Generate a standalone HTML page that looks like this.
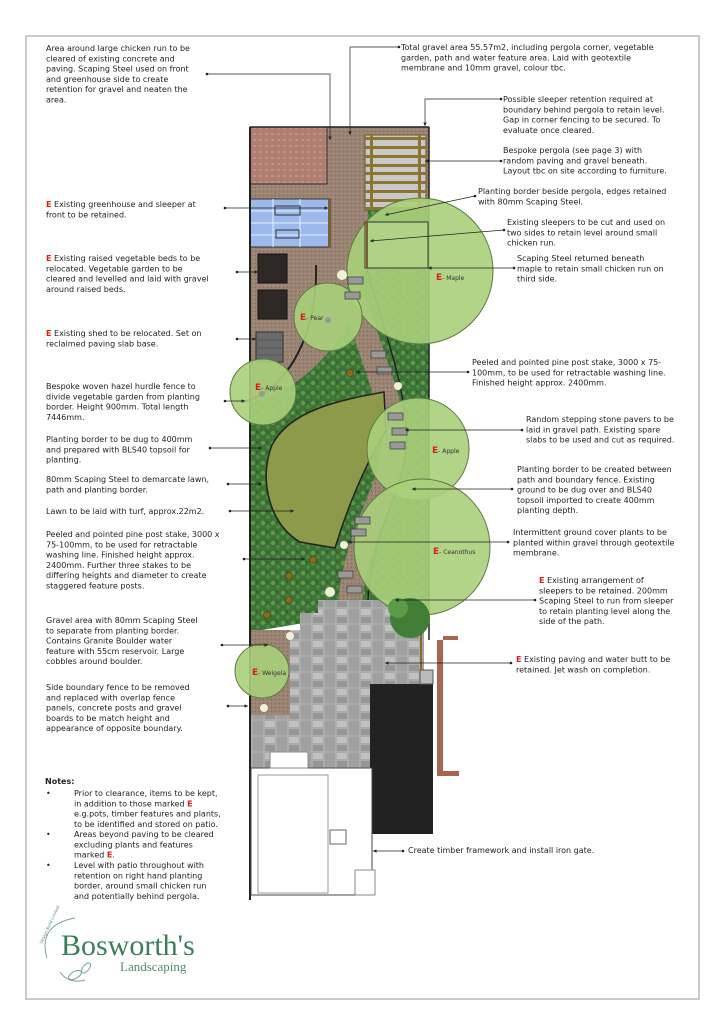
<!DOCTYPE html>
<html><head><meta charset="utf-8"><style>
html,body{margin:0;padding:0;background:#fff}
svg{display:block}
text{font-family:"DejaVu Sans","Liberation Sans",sans-serif;font-size:8px;fill:#222}
.e{fill:#d81e1e;font-weight:bold}
.tl{font-size:6px;fill:#333}
</style></head><body>
<svg width="724" height="1024" viewBox="0 0 724 1024" xmlns="http://www.w3.org/2000/svg">
<defs>
<marker id="a" viewBox="0 0 6 6" refX="6" refY="3" markerWidth="5" markerHeight="5" orient="auto"><path d="M0,0L6,3L0,6z" fill="#222"/></marker>
<pattern id="grv" width="4" height="4" patternUnits="userSpaceOnUse"><rect width="4" height="4" fill="#9a8372"/><rect x="1" y="1" width="1" height="1" fill="#b29c8a"/><rect x="3" y="3" width="1" height="1" fill="#7f6a5b"/></pattern>
<pattern id="pl" width="10" height="10" patternUnits="userSpaceOnUse"><rect width="10" height="10" fill="#3d7336"/><circle cx="3" cy="3" r="2.2" fill="#5e9a4c"/><circle cx="8" cy="7" r="2" fill="#4e8a41"/><circle cx="7" cy="2" r="1" fill="#2c5a28"/></pattern>
<pattern id="pat" width="24" height="16" patternUnits="userSpaceOnUse"><rect width="24" height="16" fill="#acacac"/><rect x="1" y="1" width="10" height="6" fill="#c0c0c0"/><rect x="13" y="1" width="10" height="14" fill="#a0a0a0"/><rect x="1" y="9" width="10" height="6" fill="#969696"/></pattern>
<pattern id="brk" width="6" height="6" patternUnits="userSpaceOnUse"><rect width="6" height="6" fill="#b07e6e"/><rect x="1" y="1" width="3" height="2" fill="#c0918a"/></pattern>
</defs>
<rect x="26" y="36" width="673" height="963" fill="#fff" stroke="#b8b8b8" stroke-width="1.5"/>

<!-- plot -->
<rect x="250" y="127" width="179" height="480" fill="url(#grv)"/>
<rect x="250" y="127" width="77" height="57" fill="url(#brk)" stroke="#333" stroke-width="1"/>
<!-- greenhouse -->
<rect x="250" y="199" width="80" height="48" fill="#9db9ec" stroke="#333"/>
<g stroke="#e6eefc" stroke-width="1"><line x1="250" y1="211" x2="330" y2="211"/><line x1="250" y1="223" x2="330" y2="223"/><line x1="250" y1="235" x2="330" y2="235"/><line x1="273" y1="199" x2="273" y2="247"/><line x1="300" y1="199" x2="300" y2="247"/></g>
<rect x="275" y="206" width="25" height="9" fill="none" stroke="#333"/><rect x="276" y="230" width="23" height="8" fill="none" stroke="#333"/>
<line x1="329" y1="199" x2="329" y2="247" stroke="#7a5f2a" stroke-width="2"/>
<!-- beds and shed -->
<rect x="258" y="254" width="29" height="29" fill="#2e2826" stroke="#111"/>
<rect x="258" y="290" width="29" height="29" fill="#2e2826" stroke="#111"/>
<rect x="256" y="332" width="27" height="30" fill="#6b6b6b" stroke="#333"/>
<g stroke="#555"><line x1="256" y1="340" x2="283" y2="340"/><line x1="256" y1="348" x2="283" y2="348"/><line x1="256" y1="355" x2="283" y2="355"/></g>

<!-- planting -->
<path d="M250,402 C300,392 330,352 345,330 L367,268 L429,268 L429,602 L250,632 Z" fill="url(#pl)"/>
<path d="M355,300 C368,350 393,400 394,440 C394,490 355,530 350,605" fill="none" stroke="url(#grv)" stroke-width="24"/>
<path d="M367,268 C380,320 405,380 407,437 C407,490 370,530 368,600" fill="none" stroke="#222" stroke-width="1.5"/>
<!-- lawn -->
<path d="M384,392 C340,400 290,410 272,445 C258,480 270,525 300,542 L335,548 C345,515 362,470 386,430 Z" fill="#8c9a4a" stroke="#222" stroke-width="1.5"/>
<path d="M316,265 C318,330 290,390 243,402" fill="none" stroke="#222" stroke-width="2"/>

<!-- patio -->
<path d="M318,600 L424,600 L424,684 L370,684 L370,870 L330,870 L330,768 L250,768 L250,715 L290,715 L290,630 L300,630 L300,613 L318,613 Z" fill="url(#pat)"/>
<rect x="250" y="630" width="40" height="85" fill="url(#grv)"/>
<rect x="370" y="684" width="63" height="150" fill="#222"/>
<rect x="420" y="670" width="13" height="14" fill="#bbb" stroke="#555"/>
<line x1="421" y1="602" x2="421" y2="670" stroke="#8a6a2a" stroke-width="2"/>
<path d="M437,640 L458,640 L458,636 L437,636 Z M437,636 L443,636 L443,775 L437,775 Z M437,771 L459,771 L459,776 L437,776Z" fill="#a8664e"/>
<line x1="429" y1="127" x2="429" y2="640" stroke="#222" stroke-width="1.5"/>
<line x1="250" y1="127" x2="250" y2="900" stroke="#222" stroke-width="2"/>
<line x1="250" y1="127" x2="429" y2="127" stroke="#222" stroke-width="1.5"/>
<!-- building -->
<rect x="251" y="768" width="121" height="127" fill="#fff" stroke="#444"/>
<rect x="258" y="775" width="70" height="118" fill="none" stroke="#999"/>
<rect x="270" y="752" width="38" height="16" fill="#fff" stroke="#888"/>
<rect x="330" y="830" width="16" height="14" fill="#fff" stroke="#666"/>
<rect x="355" y="870" width="20" height="25" fill="#fff" stroke="#888"/>

<!-- pergola + chicken run -->
<rect x="365" y="135" width="61" height="75" fill="#c8c8c8" stroke="#6a5520"/>
<g fill="#8c7431"><rect x="365" y="137" width="61" height="3"/><rect x="365" y="146" width="61" height="3"/><rect x="365" y="155" width="61" height="3"/><rect x="365" y="164" width="61" height="3"/><rect x="365" y="172" width="61" height="3"/><rect x="365" y="181" width="61" height="3"/><rect x="365" y="190" width="61" height="3"/><rect x="365" y="199" width="61" height="3"/><rect x="365" y="207" width="61" height="3"/><rect x="370" y="135" width="3" height="75"/><rect x="418" y="135" width="3" height="75"/></g>
<rect x="368" y="210" width="60" height="12" fill="url(#pl)"/>

<!-- trees -->
<g fill="#a8cf7a" fill-opacity="0.9" stroke="#5d7a44" stroke-width="1">
<circle cx="420" cy="271" r="73"/>
<circle cx="328" cy="317" r="34"/>
<circle cx="263" cy="392" r="33"/>
<circle cx="418" cy="449" r="51"/>
<circle cx="422" cy="547" r="68"/>
<circle cx="262" cy="671" r="27"/>
</g>
<rect x="365" y="222" width="63" height="46" fill="#b7d98e" fill-opacity="0.6" stroke="#333"/>
<line x1="367" y1="222" x2="367" y2="268" stroke="#7a5f2a" stroke-width="2"/>
<circle cx="410" cy="618" r="20" fill="#3f7e34"/><circle cx="398" cy="608" r="10" fill="#5a9a48"/>
<!-- stones -->
<g fill="#999" stroke="#444" stroke-width="0.8">
<rect x="348" y="277" width="15" height="7"/><rect x="345" y="292" width="15" height="7"/><rect x="371" y="351" width="15" height="7"/><rect x="377" y="367" width="15" height="7"/><rect x="388" y="413" width="15" height="7"/><rect x="392" y="428" width="15" height="7"/><rect x="390" y="442" width="15" height="7"/><rect x="355" y="517" width="15" height="7"/><rect x="351" y="529" width="15" height="7"/><rect x="338" y="571" width="15" height="7"/><rect x="347" y="586" width="15" height="7"/>
</g>
<g fill="#f2f0d8"><circle cx="342" cy="275" r="5"/><circle cx="398" cy="386" r="4"/><circle cx="344" cy="545" r="4"/><circle cx="330" cy="592" r="5"/><circle cx="290" cy="636" r="4"/><circle cx="264" cy="708" r="4"/></g>
<g fill="#8a6a1c" stroke="#4a3a10" stroke-width="0.6"><circle cx="350" cy="373" r="3.5"/><circle cx="313" cy="560" r="3.5"/><circle cx="289" cy="576" r="3.5"/><circle cx="289" cy="600" r="3.5"/><circle cx="267" cy="615" r="3.5"/></g>
<g fill="#999"><circle cx="328" cy="320" r="3"/><circle cx="262" cy="394" r="3"/></g>
<!-- tree labels -->
<text x="436" y="280"><tspan class="e" font-size="9">E</tspan><tspan class="tl">- Maple</tspan></text>
<text x="300" y="320"><tspan class="e" font-size="9">E</tspan><tspan class="tl">- Pear</tspan></text>
<text x="255" y="390"><tspan class="e" font-size="9">E</tspan><tspan class="tl">- Apple</tspan></text>
<text x="432" y="453"><tspan class="e" font-size="9">E</tspan><tspan class="tl">- Apple</tspan></text>
<text x="433" y="554"><tspan class="e" font-size="9">E</tspan><tspan class="tl">- Ceanothus</tspan></text>
<text x="252" y="675"><tspan class="e" font-size="9">E</tspan><tspan class="tl">- Weigela</tspan></text>

<!-- leaders -->
<g stroke="#222" stroke-width="0.7" fill="none" marker-end="url(#a)">
<path d="M207,74 L330,74 L330,140"/>
<path d="M225,208 L328,208"/>
<path d="M237,272 L258,272"/>
<path d="M237,339 L256,339"/>
<path d="M225,401 L245,401"/>
<path d="M210,448 L262,448"/>
<path d="M228,484 L262,484"/>
<path d="M230,511 L294,511"/>
<path d="M244,559 L305,559"/>
<path d="M222,645 L268,645"/>
<path d="M228,706 L248,706"/>
<path d="M399,47 L350,47 L350,135"/>
<path d="M501,99 L425,99 L425,126"/>
<path d="M501,161 L425,161"/>
<path d="M475,196 L385,215"/>
<path d="M504,230 L370,241"/>
<path d="M514,268 L428,268"/>
<path d="M468,372 L356,372"/>
<path d="M522,430 L405,430"/>
<path d="M512,489 L412,489"/>
<path d="M508,542 L348,542"/>
<path d="M535,600 L395,600"/>
<path d="M511,663 L385,663"/>
<path d="M403,851 L373,851"/>
</g>
<g fill="#222"><circle cx="207" cy="74" r="1.3"/><circle cx="225" cy="208" r="1.3"/><circle cx="237" cy="272" r="1.3"/><circle cx="237" cy="339" r="1.3"/><circle cx="225" cy="401" r="1.3"/><circle cx="210" cy="448" r="1.3"/><circle cx="228" cy="484" r="1.3"/><circle cx="230" cy="511" r="1.3"/><circle cx="244" cy="559" r="1.3"/><circle cx="222" cy="645" r="1.3"/><circle cx="228" cy="706" r="1.3"/><circle cx="399" cy="47" r="1.3"/><circle cx="501" cy="99" r="1.3"/><circle cx="501" cy="161" r="1.3"/><circle cx="475" cy="196" r="1.3"/><circle cx="504" cy="230" r="1.3"/><circle cx="514" cy="268" r="1.3"/><circle cx="468" cy="372" r="1.3"/><circle cx="522" cy="430" r="1.3"/><circle cx="512" cy="489" r="1.3"/><circle cx="508" cy="542" r="1.3"/><circle cx="535" cy="600" r="1.3"/><circle cx="511" cy="663" r="1.3"/><circle cx="403" cy="851" r="1.3"/></g>

<!-- left texts -->
<text x="46" y="51"><tspan x="46">Area around large chicken run to be</tspan><tspan x="46" dy="10.3">cleared of existing concrete and</tspan><tspan x="46" dy="10.3">paving. Scaping Steel used on front</tspan><tspan x="46" dy="10.3">and greenhouse side to create</tspan><tspan x="46" dy="10.3">retention for gravel and neaten the</tspan><tspan x="46" dy="10.3">area.</tspan></text>
<text x="46" y="207"><tspan class="e">E</tspan> Existing greenhouse and sleeper at<tspan x="46" dy="10.3">front to be retained.</tspan></text>
<text x="46" y="261"><tspan class="e">E</tspan> Existing raised vegetable beds to be<tspan x="46" dy="10.3">relocated. Vegetable garden to be</tspan><tspan x="46" dy="10.3">cleared and levelled and laid with gravel</tspan><tspan x="46" dy="10.3">around raised beds.</tspan></text>
<text x="46" y="336"><tspan class="e">E</tspan> Existing shed to be relocated. Set on<tspan x="46" dy="10.3">reclaimed paving slab base.</tspan></text>
<text x="46" y="389"><tspan x="46">Bespoke woven hazel hurdle fence to</tspan><tspan x="46" dy="10.3">divide vegetable garden from planting</tspan><tspan x="46" dy="10.3">border. Height 900mm. Total length</tspan><tspan x="46" dy="10.3">7446mm.</tspan></text>
<text x="46" y="442"><tspan x="46">Planting border to be dug to 400mm</tspan><tspan x="46" dy="10.3">and prepared with BLS40 topsoil for</tspan><tspan x="46" dy="10.3">planting.</tspan></text>
<text x="46" y="482"><tspan x="46">80mm Scaping Steel to demarcate lawn,</tspan><tspan x="46" dy="10.3">path and planting border.</tspan></text>
<text x="46" y="514">Lawn to be laid with turf, approx.22m2.</text>
<text x="46" y="537"><tspan x="46">Peeled and pointed pine post stake, 3000 x</tspan><tspan x="46" dy="10.3">75-100mm, to be used for retractable</tspan><tspan x="46" dy="10.3">washing line. Finished height approx.</tspan><tspan x="46" dy="10.3">2400mm. Further three stakes to be</tspan><tspan x="46" dy="10.3">differing heights and diameter to create</tspan><tspan x="46" dy="10.3">staggered feature posts.</tspan></text>
<text x="46" y="623"><tspan x="46">Gravel area with 80mm Scaping Steel</tspan><tspan x="46" dy="10.3">to separate from planting border.</tspan><tspan x="46" dy="10.3">Contains Granite Boulder water</tspan><tspan x="46" dy="10.3">feature with 55cm reservoir. Large</tspan><tspan x="46" dy="10.3">cobbles around boulder.</tspan></text>
<text x="46" y="690"><tspan x="46">Side boundary fence to be removed</tspan><tspan x="46" dy="10.3">and replaced with overlap fence</tspan><tspan x="46" dy="10.3">panels, concrete posts and gravel</tspan><tspan x="46" dy="10.3">boards to be match height and</tspan><tspan x="46" dy="10.3">appearance of opposite boundary.</tspan></text>

<!-- right texts -->
<text x="401" y="50"><tspan x="401">Total gravel area 55.57m2, including pergola corner, vegetable</tspan><tspan x="401" dy="10.3">garden, path and water feature area. Laid with geotextile</tspan><tspan x="401" dy="10.3">membrane and 10mm gravel, colour tbc.</tspan></text>
<text x="503" y="102"><tspan x="503">Possible sleeper retention required at</tspan><tspan x="503" dy="10.3">boundary behind pergola to retain level.</tspan><tspan x="503" dy="10.3">Gap in corner fencing to be secured. To</tspan><tspan x="503" dy="10.3">evaluate once cleared.</tspan></text>
<text x="503" y="153"><tspan x="503">Bespoke pergola (see page 3) with</tspan><tspan x="503" dy="10.3">random paving and gravel beneath.</tspan><tspan x="503" dy="10.3">Layout tbc on site according to furniture.</tspan></text>
<text x="478" y="194"><tspan x="478">Planting border beside pergola, edges retained</tspan><tspan x="478" dy="10.3">with 80mm Scaping Steel.</tspan></text>
<text x="507" y="225"><tspan x="507">Existing sleepers to be cut and used on</tspan><tspan x="507" dy="10.3">two sides to retain level around small</tspan><tspan x="507" dy="10.3">chicken run.</tspan></text>
<text x="517" y="261"><tspan x="517">Scaping Steel returned beneath</tspan><tspan x="517" dy="10.3">maple to retain small chicken run on</tspan><tspan x="517" dy="10.3">third side.</tspan></text>
<text x="472" y="365"><tspan x="472">Peeled and pointed pine post stake, 3000 x 75-</tspan><tspan x="472" dy="10.3">100mm, to be used for retractable washing line.</tspan><tspan x="472" dy="10.3">Finished height approx. 2400mm.</tspan></text>
<text x="526" y="422"><tspan x="526">Random stepping stone pavers to be</tspan><tspan x="526" dy="10.3">laid in gravel path. Existing spare</tspan><tspan x="526" dy="10.3">slabs to be used and cut as required.</tspan></text>
<text x="517" y="472"><tspan x="517">Planting border to be created between</tspan><tspan x="517" dy="10.3">path and boundary fence. Existing</tspan><tspan x="517" dy="10.3">ground to be dug over and BLS40</tspan><tspan x="517" dy="10.3">topsoil imported to create 400mm</tspan><tspan x="517" dy="10.3">planting depth.</tspan></text>
<text x="513" y="535"><tspan x="513">Intermittent ground cover plants to be</tspan><tspan x="513" dy="10.3">planted within gravel through geotextile</tspan><tspan x="513" dy="10.3">membrane.</tspan></text>
<text x="539" y="583"><tspan class="e">E</tspan> Existing arrangement of<tspan x="539" dy="10.3">sleepers to be retained. 200mm</tspan><tspan x="539" dy="10.3">Scaping Steel to run from sleeper</tspan><tspan x="539" dy="10.3">to retain planting level along the</tspan><tspan x="539" dy="10.3">side of the path.</tspan></text>
<text x="516" y="662"><tspan class="e">E</tspan> Existing paving and water butt to be<tspan x="516" dy="10.3">retained. Jet wash on completion.</tspan></text>
<text x="408" y="853">Create timber framework and install iron gate.</text>

<!-- notes -->
<text x="45" y="784" font-weight="bold">Notes:</text>
<g><text x="46" y="796">•</text><text x="74" y="796"><tspan x="74">Prior to clearance, items to be kept,</tspan><tspan x="74" dy="10.3">in addition to those marked <tspan class="e">E</tspan></tspan><tspan x="74" dy="10.3">e.g.pots, timber features and plants,</tspan><tspan x="74" dy="10.3">to be identified and stored on patio.</tspan></text>
<text x="46" y="837">•</text><text x="74" y="837"><tspan x="74">Areas beyond paving to be cleared</tspan><tspan x="74" dy="10.3">excluding plants and features</tspan><tspan x="74" dy="10.3">marked <tspan class="e">E</tspan>.</tspan></text>
<text x="46" y="868">•</text><text x="74" y="868"><tspan x="74">Level with patio throughout with</tspan><tspan x="74" dy="10.3">retention on right hand planting</tspan><tspan x="74" dy="10.3">border, around small chicken run</tspan><tspan x="74" dy="10.3">and potentially behind pergola.</tspan></text></g>

<!-- logo -->
<path d="M47,958 C40,935 52,922 75,918" fill="none" stroke="#7aa58c" stroke-width="1"/>
<text x="42" y="944" font-size="4" fill="#4f8a6a" transform="rotate(-65 42 944)" style="font-size:4px;fill:#4f8a6a">Design Build Limited</text>
<path d="M60,972 C65,980 75,983 85,980" fill="none" stroke="#7aa58c"/>
<ellipse cx="75" cy="975" rx="7" ry="3.5" fill="none" stroke="#7aa58c" transform="rotate(-30 75 975)"/>
<ellipse cx="86" cy="968" rx="6" ry="3" fill="none" stroke="#7aa58c" transform="rotate(-50 86 968)"/>
<text x="61" y="955" style="font-family:'Liberation Serif',serif;font-size:30px;fill:#3e7d5c">Bosworth's</text>
<text x="120" y="971" style="font-family:'Liberation Serif',serif;font-size:13px;fill:#4f8a6a">Landscaping</text>
</svg>
</body></html>
